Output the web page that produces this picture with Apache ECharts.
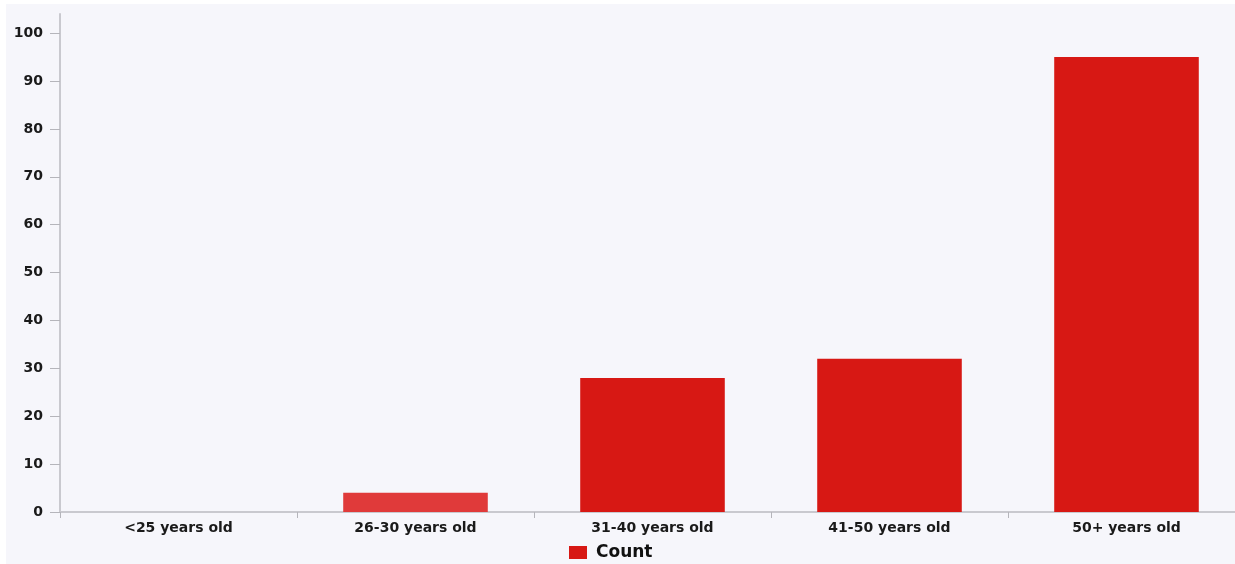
<!DOCTYPE html>
<html>
<head>
<meta charset="utf-8">
<script src="https://cdn.jsdelivr.net/npm/echarts@6/dist/echarts.min.js"></script>
<style>
  html, body { margin: 0; padding: 0; background: #ffffff; overflow: hidden; }
  #chart { position: absolute; left: 6px; top: 4px; width: 1239px; height: 560px; background: #f6f6fb; }
</style>
</head>
<body>
<div id="chart"></div>
<script>
const categories = ["<25 years old", "26-30 years old", "31-40 years old", "41-50 years old", "50+ years old"];
const counts = [0, 4, 28, 32, 95];
const yTicks = [0, 10, 20, 30, 40, 50, 60, 70, 80, 90, 100];

const chart = echarts.init(document.getElementById("chart"));
chart.setOption({
  animation: false,
  grid: { left: 54, right: 0, top: 10, bottom: 52 },
  legend: {
    data: ["Count"],
    left: 558,
    top: 535,
    icon: "rect",
    itemWidth: 18,
    itemHeight: 13,
    textStyle: { color: "#111", fontSize: 17, fontWeight: "bold", fontFamily: "DejaVu Sans", padding: [0, 0, 0, 4] }
  },
  xAxis: {
    type: "category",
    data: categories,
    axisLine: { lineStyle: { color: "#c9c9cf", width: 2 } },
    axisTick: { show: true, length: 6, lineStyle: { color: "#b5b5bb" } },
    axisLabel: { color: "#1a1a1a", fontSize: 14, fontWeight: "bold", fontFamily: "DejaVu Sans", margin: 9 }
  },
  yAxis: {
    type: "value",
    min: 0,
    max: 104,
    axisLine: { show: true, lineStyle: { color: "#c9c9cf", width: 2 } },
    axisTick: { show: true, length: 10, customValues: yTicks, lineStyle: { color: "#b5b5bb" } },
    axisLabel: { color: "#1a1a1a", fontSize: 14, fontWeight: "bold", fontFamily: "DejaVu Sans", margin: 17, customValues: yTicks },
    splitLine: { show: false }
  },
  series: [{
    name: "Count",
    type: "bar",
    barCategoryGap: "39%",
    itemStyle: { color: "#d71814" },
    data: counts.map((v, i) => i === 1 ? { value: v, itemStyle: { color: "#e03a3a" } } : v)
  }]
});
</script>
</body>
</html>
